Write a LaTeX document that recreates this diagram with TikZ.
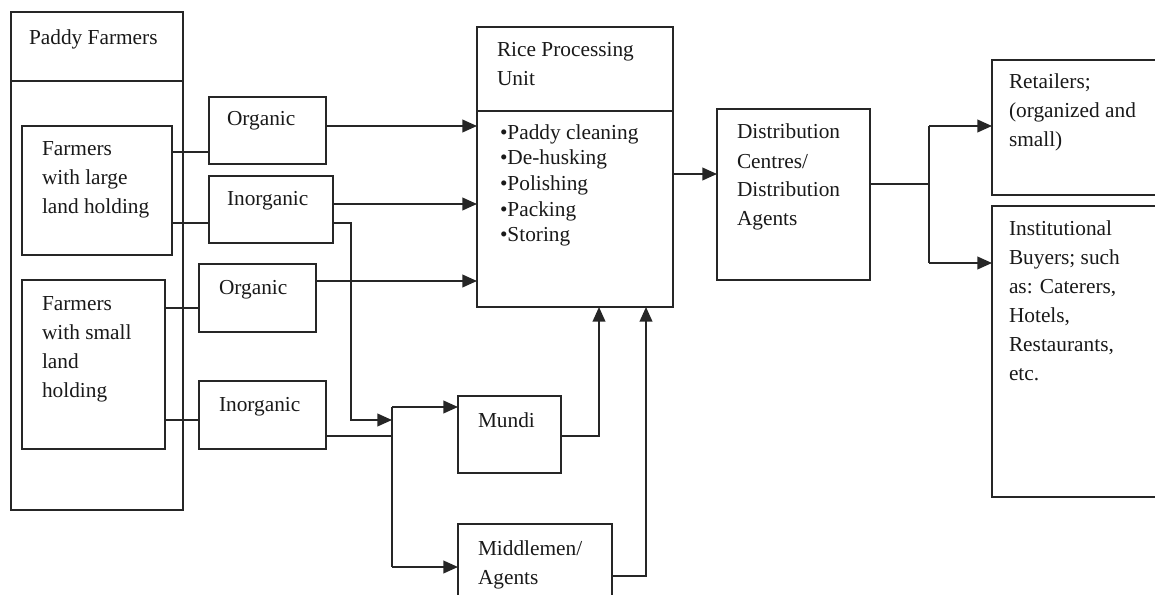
\documentclass[tikz,border=0pt]{standalone}
\usepackage{fontspec}
\setmainfont{Liberation Serif}
\usetikzlibrary{arrows.meta,calc,fit}
\newcommand{\fsz}{\fontsize{16}{21.75}\selectfont}
\newcommand{\fszb}{\fontsize{16}{19.3}\selectfont}
\begin{document}
\begin{tikzpicture}[x=0.75pt,y=-0.75pt,
  box/.style={draw=black!85, line width=1.4pt, inner sep=0pt, outer sep=0pt},
  conn/.style={draw=black!85, line width=1.4pt},
  arr/.style={conn, -{Triangle[length=11pt,width=9.5pt]}},
  txt/.style={anchor=north west, inner sep=0pt, outer sep=0pt, align=left, font=\fsz, text=black!90},
  btxt/.style={txt, font=\fszb}]
\useasboundingbox (0,0) rectangle (1155,595);
\clip (0,0) rectangle (1155,595);
% boxes
\node[box, fit={(11,12) (183,510)}] (pf) {};
\node[box, fit={(22,126) (172,255)}] (large) {};
\node[box, fit={(22,280) (165,449)}] (small) {};
\node[box, fit={(209,97) (326,164)}] (org1) {};
\node[box, fit={(209,176) (333,243)}] (inorg1) {};
\node[box, fit={(199,264) (316,332)}] (org2) {};
\node[box, fit={(199,381) (326,449)}] (inorg2) {};
\node[box, fit={(477,27) (673,307)}] (rpu) {};
\node[box, fit={(458,396) (561,473)}] (mundi) {};
\node[box, fit={(458,524) (612,640)}] (mid) {};
\node[box, fit={(717,109) (870,280)}] (dc) {};
\node[box, fit={(992,60) (1200,195)}] (ret) {};
\node[box, fit={(992,206) (1200,497)}] (inst) {};
% header separators
\draw[conn] (pf.west |- 0,81) -- (pf.east |- 0,81);
\draw[conn] (rpu.west |- 0,111) -- (rpu.east |- 0,111);
% texts
\node[txt] (tpf) at (29,24.5) {\strut Paddy Farmers};
\node[txt] (tlarge) at (42,135.2) {\strut Farmers\\with large\\land holding};
\node[txt] (tsmall) at (42,289.7) {\strut Farmers\\with small\\land\\holding};
\node[txt] (torg1) at (227,105.7) {\strut Organic};
\node[txt] (tinorg1) at (227,185.7) {\strut Inorganic};
\node[txt] (torg2) at (219,273.7) {\strut Organic};
\node[txt] (tinorg2) at (219,390.7) {\strut Inorganic};
\node[txt] (trpu) at (497,36.7) {\strut Rice Processing\\Unit};
\node[btxt] (tsteps) at (500,121) {\strut •Paddy cleaning\\•De-husking\\•Polishing\\•Packing\\•Storing};
\node[txt] (tmundi) at (478,406.7) {\strut Mundi};
\node[txt] (tmid) at (478,534.7) {\strut Middlemen/\\Agents};
\node[txt] (tdc) at (737,118.7) {\strut Distribution\\Centres/\\Distribution\\Agents};
\node[txt] (tret) at (1009,68.7) {\strut Retailers;\\(organized and\\small)};
\node[txt] (tinst) at (1009,214.7) {\strut Institutional\\Buyers; such\\as: Caterers,\\Hotels,\\Restaurants,\\etc.};
% connectors farmers -> types
\draw[conn] (large.east |- 0,152) -- (org1.west |- 0,152);
\draw[conn] (large.east |- 0,223) -- (inorg1.west |- 0,223);
\draw[conn] (small.east |- 0,308) -- (org2.west |- 0,308);
\draw[conn] (small.east |- 0,420) -- (inorg2.west |- 0,420);
% types -> rice processing unit
\draw[arr] (org1.east |- 0,126) -- (rpu.west |- 0,126);
\draw[arr] (inorg1.east |- 0,204) -- (rpu.west |- 0,204);
\draw[arr] (org2.east |- 0,281) -- (rpu.west |- 0,281);
% inorganic -> junction -> mundi / middlemen
\coordinate (jt) at (392,407);
\coordinate (jb) at (392,567);
\coordinate (jm) at (392,420);
\coordinate (ji) at (392,436);
\draw[arr] (inorg1.east |- 0,223) -| (351,420) -- (jm);
\draw[conn] (inorg2.east |- 0,436) -- (ji);
\draw[conn] (jt) -- (jb);
\draw[arr] (jt) -- (mundi.west |- jt);
\draw[arr] (jb) -- (mid.west |- jb);
% mundi / middlemen -> rpu
\draw[arr] (mundi.east |- 0,436) -| (rpu.south -| 599,0);
\draw[arr] (mid.east |- 0,576) -| (rpu.south -| 646,0);
% rpu -> dc
\draw[arr] (rpu.east |- 0,174) -- (dc.west |- 0,174);
% dc -> buyers
\coordinate (dt) at (929,126);
\coordinate (db) at (929,263);
\coordinate (dm) at (929,184);
\draw[conn] (dc.east |- dm) -- (dm);
\draw[conn] (dt) -- (db);
\draw[arr] (dt) -- (ret.west |- dt);
\draw[arr] (db) -- (inst.west |- db);
\end{tikzpicture}
\end{document}
